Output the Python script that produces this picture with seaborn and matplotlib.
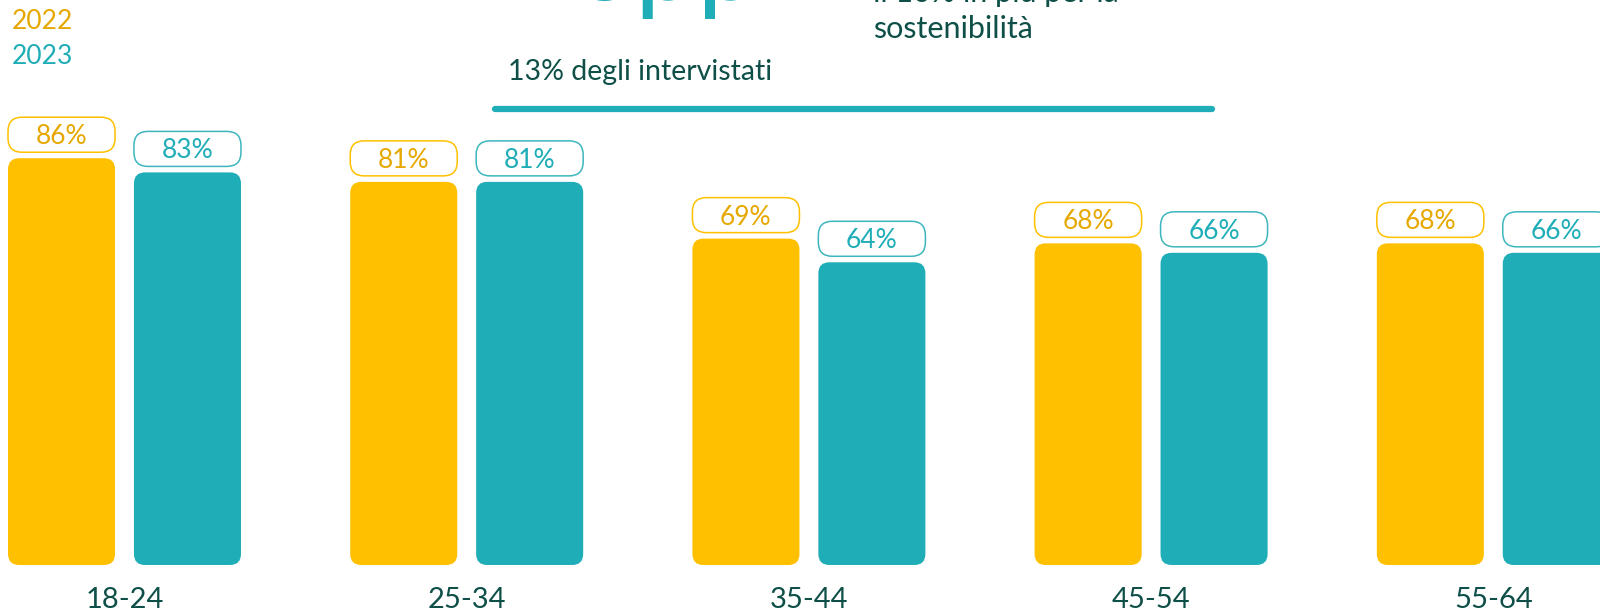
import matplotlib
matplotlib.use("Agg")
import matplotlib.pyplot as plt
import seaborn as sns
import pandas as pd
from matplotlib.patches import FancyBboxPatch
from matplotlib.lines import Line2D

# ---- data ----
age_groups = ["18-24", "25-34", "35-44", "45-54", "55-64"]
years = ["2022", "2023"]
values_2022 = [86, 81, 69, 68, 68]
values_2023 = [83, 81, 64, 66, 66]

df = pd.DataFrame({
    "age": age_groups * 2,
    "year": [years[0]] * len(age_groups) + [years[1]] * len(age_groups),
    "value": values_2022 + values_2023,
})

YELLOW = "#FFC000"
YELLOW_TXT = "#E6A800"
TEAL = "#1FADB7"
DARK = "#0E4F47"

sns.set_theme(style="white")
plt.rcParams["font.family"] = ["Lato", "DejaVu Sans"]

W, H = 1600, 612
fig = plt.figure(figsize=(16, 6.12), dpi=100)
base_px = 565
ax = fig.add_axes([0, (H - base_px) / H, 1, base_px / H])

sns.barplot(data=df, x="age", y="value", hue="year", order=age_groups,
            hue_order=years, palette=[YELLOW, TEAL], width=0.736, gap=0.15,
            saturation=1, errorbar=None, legend=False, ax=ax)

PX_X = 342.2   # pixels per category unit
PX_Y = 4.73    # pixels per percent
ax.set_xlim(-124.5 / PX_X, -124.5 / PX_X + W / PX_X)
ax.set_ylim(0, base_px / PX_Y)
for s in ax.spines.values():
    s.set_visible(False)
ax.set_yticks([])
ax.set_xlabel("")
ax.set_ylabel("")
ax.tick_params(axis="x", length=0, pad=16, labelsize=21, labelcolor=DARK)

aspect = PX_X / PX_Y
bars = list(ax.patches)
for i, bar in enumerate(bars):
    x, w, h = bar.get_x(), bar.get_width(), bar.get_height()
    fc = bar.get_facecolor()
    bar.remove()
    ax.add_patch(FancyBboxPatch((x, 0), w, h,
                                boxstyle=f"round,pad=0,rounding_size={11 / PX_X}",
                                mutation_aspect=aspect, fc=fc, ec="none",
                                clip_on=False))
    is_2022 = i < len(age_groups)
    ec = YELLOW if is_2022 else "#3DB6BE"
    tc = YELLOW_TXT if is_2022 else TEAL
    gap = 6 / PX_Y
    bh = 35 / PX_Y
    ax.add_patch(FancyBboxPatch((x, h + gap), w, bh,
                                boxstyle=f"round,pad=0,rounding_size={14 / PX_X}",
                                mutation_aspect=aspect, fc="white", ec=ec,
                                lw=1.1, clip_on=False))
    ax.text(x + w / 2, h + gap + (17.5 - 9.5) / PX_Y, f"{h:.0f}%",
            ha="center", va="baseline", fontsize=19, color=tc)

# ---- header texts ----
def ftext(x, y, s, **kw):
    fig.text(x / W, 1 - y / H, s, **kw)

ftext(12, 29, "2022", fontsize=19, color=YELLOW_TXT, va="baseline", ha="left")
ftext(12, 64, "2023", fontsize=19, color=TEAL, va="baseline", ha="left")
ftext(572, 0, "opp", fontsize=80, color=TEAL, va="baseline", ha="left")
ftext(873, 2, "il 10% in più per la", fontsize=22, color=DARK, va="baseline", ha="left")
ftext(873, 38, "sostenibilità", fontsize=22, color=DARK, va="baseline", ha="left")
ftext(508, 80, "13% degli intervistati", fontsize=20.5, color=DARK, va="baseline", ha="left")
fig.add_artist(Line2D([495 / W, 1212 / W], [1 - 108.5 / H, 1 - 108.5 / H],
                      transform=fig.transFigure, color=TEAL, lw=4.5,
                      solid_capstyle="round"))

fig.savefig("out.png", dpi=100, facecolor="white")
